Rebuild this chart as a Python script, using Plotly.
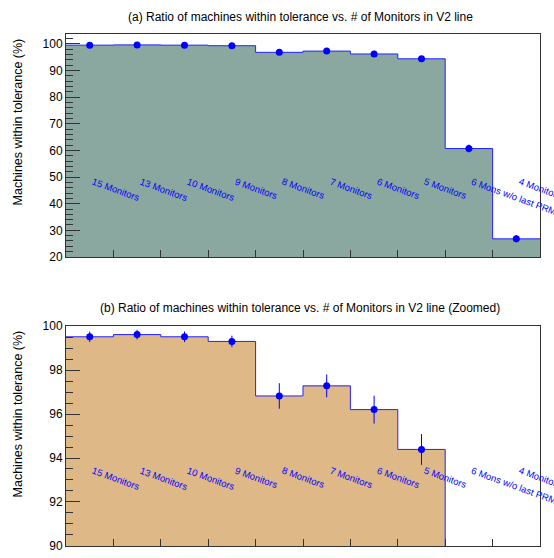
import plotly.graph_objects as go

labels = ["15 Monitors", "13 Monitors", "10 Monitors", "9 Monitors", "8 Monitors",
          "7 Monitors", "6 Monitors", "5 Monitors", "6 Mons w/o last PRM", "4 Monitors"]
ratio = [99.51, 99.61, 99.51, 99.30, 96.82, 97.28, 96.20, 94.39, 60.7, 26.8]
ratio_err = [0.24, 0.22, 0.24, 0.26, 0.58, 0.52, 0.63, 0.70, 1.5, 1.35]
bin_edges = list(range(len(ratio) + 1))
bin_centers = [i + 0.5 for i in range(len(ratio))]

W, H = 554, 558
ML, MR, MT, MB = 66, 14, 34, 5
PH = H - MT - MB


def py(pix):
    return (H - MB - pix) / PH


def px(pix):
    return (pix - ML) / (W - ML - MR)


FONT = "Liberation Sans, Arial, Helvetica, sans-serif"
fig = go.Figure()

panels = [
    dict(xa="x", ya="y", fill="#8BA8A0", ylab_y=51.0),
    dict(xa="x2", ya="y2", fill="#DEB887", ylab_y=93.75),
]

step_y = ratio + [ratio[-1]]
for p in panels:
    fig.add_trace(go.Scatter(
        x=bin_edges, y=step_y, mode="lines", line_shape="hv",
        line=dict(color="#2222ff", width=1), fill="tozeroy", fillcolor=p["fill"],
        xaxis=p["xa"], yaxis=p["ya"], showlegend=False, hoverinfo="skip"))
    fig.add_trace(go.Scatter(
        x=bin_centers, y=ratio, mode="markers",
        marker=dict(color="blue", size=7),
        error_y=dict(type="data", array=ratio_err, color="blue", thickness=1, width=0),
        xaxis=p["xa"], yaxis=p["ya"], showlegend=False, cliponaxis=True))
    for xc, lab in zip(bin_centers, labels):
        fig.add_annotation(x=xc, y=p["ylab_y"], xref=p["xa"], yref=p["ya"], text=lab,
                           showarrow=False, textangle=20, xanchor="left", yanchor="top",
                           borderpad=0, font=dict(family=FONT, size=9.5, color="blue"))

axcommon = dict(showline=True, linecolor="#333", linewidth=1, mirror=True,
                showgrid=False, zeroline=False)
fig.update_layout(
    width=W, height=H, margin=dict(l=ML, r=MR, t=MT, b=MB),
    paper_bgcolor="white", plot_bgcolor="white",
    font=dict(family=FONT, size=12, color="black"),
    xaxis=dict(domain=[0, 1], range=[0, 10], anchor="y", tickvals=bin_edges,
               ticks="inside", ticklen=7, tickcolor="#333", showticklabels=False, **axcommon),
    yaxis=dict(domain=[py(260), 1], range=[20, 103.7], anchor="x", tick0=0, dtick=10,
               ticks="inside", ticklen=14, tickcolor="#333",
               minor=dict(dtick=2, ticks="inside", ticklen=7, tickcolor="#333"),
               tickfont=dict(size=12), **axcommon),
    xaxis2=dict(domain=[0, 1], range=[0, 10], anchor="y2", tickvals=bin_edges,
                ticks="inside", ticklen=7, tickcolor="#333", showticklabels=False, **axcommon),
    yaxis2=dict(domain=[0, py(330)], range=[90, 100], anchor="x2", tick0=0, dtick=2,
                ticks="inside", ticklen=14, tickcolor="#333",
                minor=dict(dtick=0.5, ticks="inside", ticklen=7, tickcolor="#333"),
                tickfont=dict(size=12), **axcommon),
)

titles = [
    ("(a) Ratio of machines within tolerance vs. # of Monitors in V2 line", 17),
    ("(b) Ratio of machines within tolerance vs. # of Monitors in V2 line (Zoomed)", 312),
]
for t, ypix in titles:
    fig.add_annotation(text=t, xref="paper", yref="paper", x=px(300), y=py(ypix),
                       xanchor="center", yanchor="middle", showarrow=False,
                       font=dict(family=FONT, size=12, color="black"))

for ypix in (37, 333):
    fig.add_annotation(text="Machines within tolerance (%)", xref="paper", yref="paper",
                       x=px(18), y=py(ypix), xanchor="center", yanchor="top",
                       textangle=-90, showarrow=False,
                       font=dict(family=FONT, size=12.5, color="black"))

fig.write_html("out.html")
